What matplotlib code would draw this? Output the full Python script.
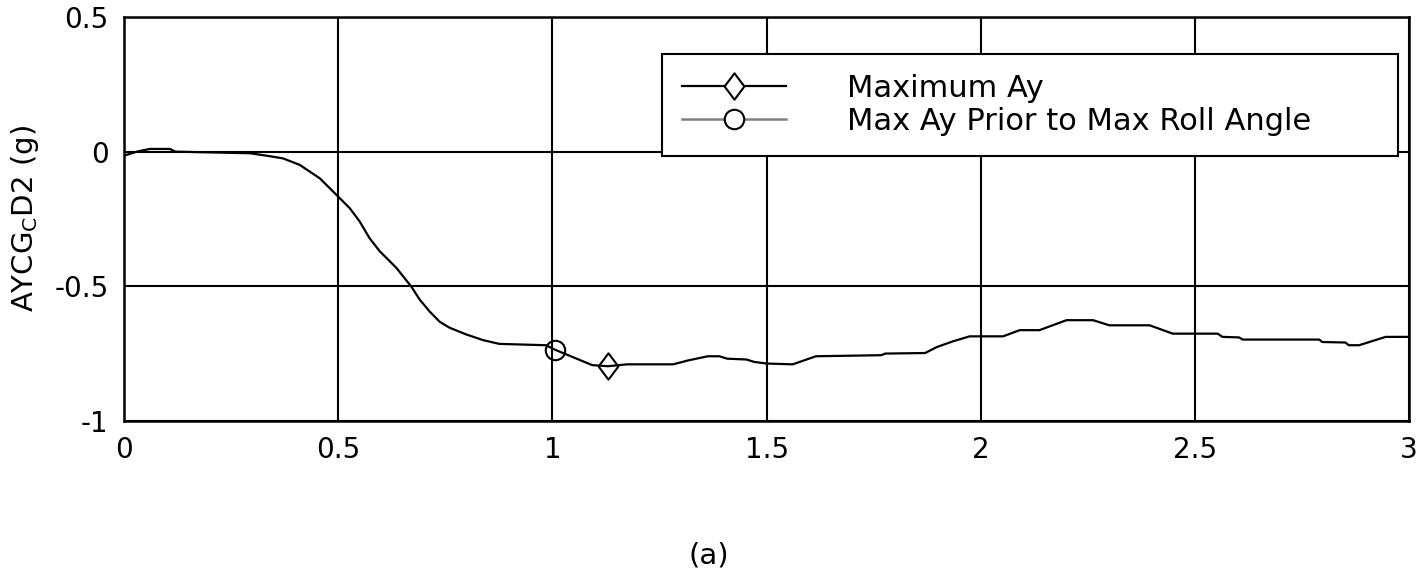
import numpy as np
import matplotlib.pyplot as plt
from matplotlib.lines import Line2D

plt.rcParams['font.family'] = ['DejaVu Sans']
plt.rcParams['mathtext.fontset'] = 'dejavusans'

# lateral acceleration trace
t = [0.0, 0.03, 0.06, 0.107, 0.12, 0.294, 0.333, 0.371, 0.41, 0.457,
     0.5, 0.527, 0.55, 0.573, 0.597, 0.636, 0.671, 0.69, 0.713, 0.737,
     0.76, 0.799, 0.838, 0.876, 0.985,
     1.005, 1.093, 1.13, 1.174, 1.282, 1.318, 1.363, 1.39, 1.408, 1.453,
     1.471, 1.5, 1.561, 1.615, 1.768, 1.777, 1.87, 1.897, 1.936, 1.974,
     2.052, 2.091, 2.137, 2.2, 2.262, 2.3, 2.394, 2.448, 2.553, 2.564,
     2.603, 2.611, 2.79, 2.797, 2.851, 2.859, 2.883, 2.945, 3.0]
ay = [-0.015, 0.0, 0.01, 0.01, 0.0, -0.006, -0.015, -0.025, -0.049, -0.099,
      -0.167, -0.21, -0.259, -0.321, -0.37, -0.432, -0.502, -0.549, -0.593, -0.632,
      -0.654, -0.679, -0.7, -0.714, -0.719,
      -0.735, -0.793, -0.797, -0.79, -0.79, -0.775, -0.76, -0.76, -0.769, -0.772,
      -0.781, -0.787, -0.79, -0.76, -0.756, -0.75, -0.748, -0.726, -0.704, -0.686,
      -0.686, -0.663, -0.663, -0.626, -0.626, -0.645, -0.645, -0.676, -0.676, -0.688,
      -0.69, -0.698, -0.698, -0.707, -0.709, -0.719, -0.719, -0.688, -0.688]

max_ay = (1.13, -0.797)
max_ay_prior = (1.005, -0.735)

xticks = [0, 0.5, 1, 1.5, 2, 2.5, 3]
xlabels = ['0', '0.5', '1', '1.5', '2', '2.5', '3']
yticks = [-1, -0.5, 0, 0.5]
ylabels = ['-1', '-0.5', '0', '0.5']

diamond = [(-0.75, 0), (0, 1), (0.75, 0), (0, -1), (-0.75, 0)]

fig = plt.figure(figsize=(14.17, 5.87), dpi=100)
ax = fig.add_axes([0.0875, 0.283, 0.907, 0.688])

ax.plot(t, ay, color='black', lw=1.6)
ax.plot(*max_ay, marker=diamond, ms=19, mfc='none', mec='black', mew=1.5, ls='none')
ax.plot(*max_ay_prior, marker='o', ms=14, mfc='none', mec='black', mew=1.5, ls='none')

ax.set_xlim(0, 3)
ax.set_ylim(-1, 0.5)
ax.set_xticks(xticks)
ax.set_xticklabels(xlabels)
ax.set_yticks(yticks)
ax.set_yticklabels(ylabels)
ax.tick_params(length=0, labelsize=20, pad=11)
ax.grid(True, color='black', lw=1.5)
for s in ax.spines.values():
    s.set_linewidth(1.8)
ax.set_ylabel(r'AYCG$_\mathrm{C}$D2 (g)', fontsize=21, labelpad=10)

h1 = Line2D([], [], color='black', lw=1.6, marker=diamond, ms=19, mfc='white', mec='black', mew=1.5)
h2 = Line2D([], [], color='#808080', lw=1.8, marker='o', ms=14, mfc='white', mec='black', mew=1.5)
leg = ax.legend([h1, h2], ['Maximum Ay', 'Max Ay Prior to Max Roll Angle'],
                loc='upper left', bbox_to_anchor=(0.4187, 0.0, 0.5728, 0.908),
                mode='expand', fontsize=22,
                handlelength=3.4, handletextpad=2.0, labelspacing=0.12,
                borderpad=0.65, borderaxespad=0, fancybox=False, framealpha=1,
                edgecolor='black')
leg.get_frame().set_linewidth(1.5)

fig.text(0.5, 0.054, '(a)', ha='center', va='center', fontsize=21)

fig.savefig('out.png', dpi=100)
